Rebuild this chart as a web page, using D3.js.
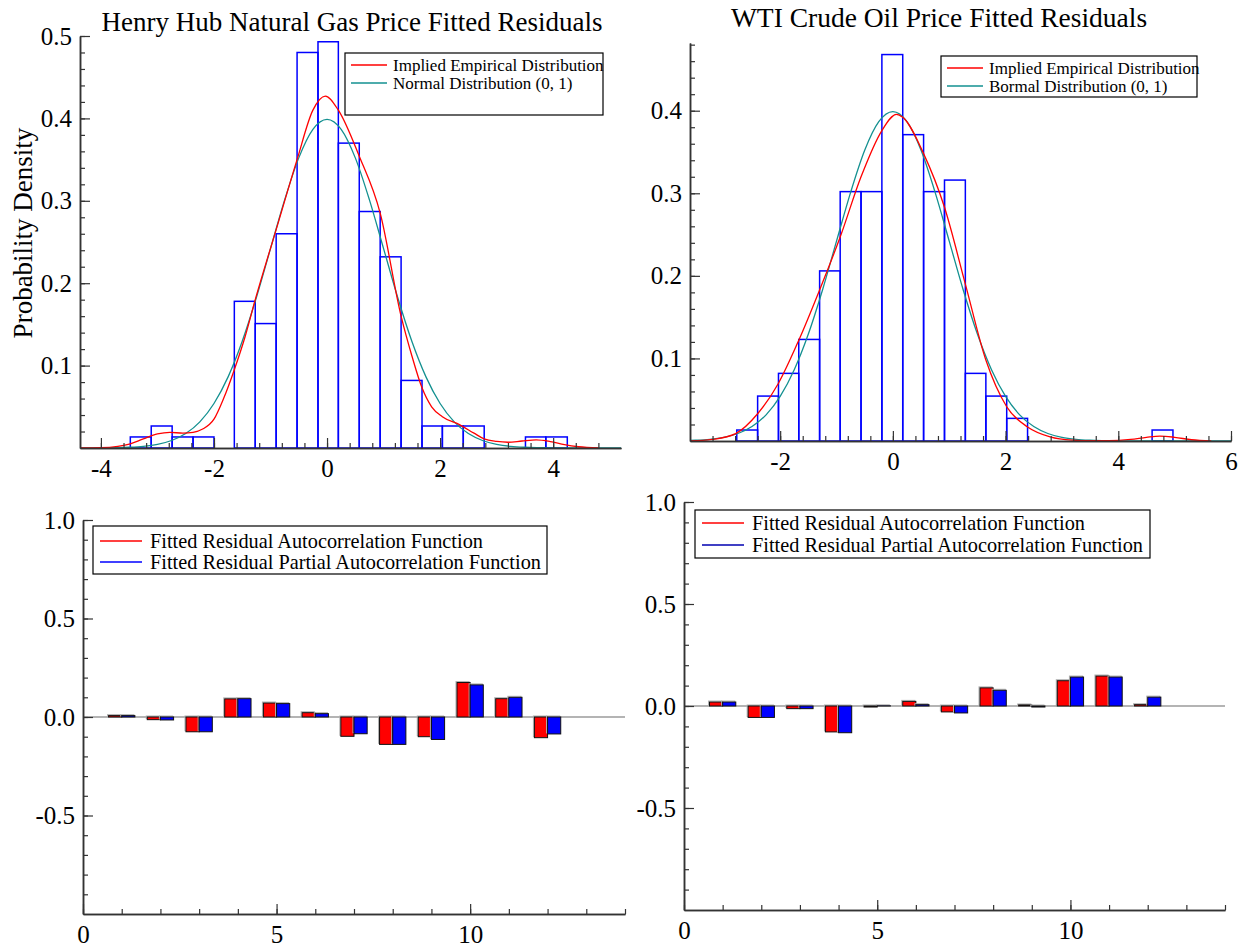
<!DOCTYPE html>
<html>
<head>
<meta charset="utf-8">
<script src="https://cdn.jsdelivr.net/npm/d3@7"></script>
<style>
  body { margin: 0; background: #fff; }
  svg text { font-family: "Liberation Serif", "Times New Roman", serif; fill: #000; }
</style>
</head>
<body>
<div id="viz"></div>
<script>
// ---- data ----
// Henry Hub histogram (bin edges and density)
var hhEdges = [-3.48, -3.11, -2.74, -2.37, -2.00, -1.64, -1.27, -0.90, -0.53, -0.16, 0.20, 0.57, 0.94, 1.31, 1.68, 2.04, 2.41, 2.78, 3.14, 3.51, 3.87, 4.25];
var hhDensity = [0.0134, 0.0267, 0.0134, 0.0134, 0, 0.178, 0.151, 0.260, 0.480, 0.493, 0.370, 0.287, 0.232, 0.082, 0.0267, 0.0267, 0.0267, 0, 0, 0.0134, 0.0134];
// implied empirical distribution (red curve)
var hhKdeX = [-4.37, -4.0, -3.7, -3.48, -3.25, -3.0, -2.78, -2.55, -2.37, -2.2, -2.0, -1.83, -1.64, -1.45, -1.27, -0.90, -0.53, -0.25, -0.03, 0.20, 0.57, 0.94, 1.31, 1.5, 1.68, 1.85, 2.04, 2.35, 2.6, 2.78, 3.0, 3.2, 3.45, 3.7, 3.95, 4.2, 4.45, 4.8];
var hhKdeY = [0, 0.0003, 0.002, 0.005, 0.011, 0.017, 0.019, 0.018, 0.019, 0.023, 0.035, 0.06, 0.095, 0.135, 0.18, 0.265, 0.35, 0.41, 0.427, 0.41, 0.354, 0.285, 0.16, 0.112, 0.073, 0.05, 0.038, 0.028, 0.018, 0.011, 0.008, 0.007, 0.0085, 0.0098, 0.0078, 0.004, 0.0015, 0];

// WTI histogram
var wtiEdges = [-2.77, -2.40, -2.03, -1.67, -1.30, -0.935, -0.565, -0.195, 0.175, 0.545, 0.916, 1.286, 1.65, 2.02, 2.39, 2.76, 3.13, 3.50, 3.87, 4.24, 4.60, 4.97];
var wtiDensity = [0.0133, 0.0544, 0.0819, 0.123, 0.206, 0.302, 0.302, 0.468, 0.371, 0.302, 0.316, 0.0819, 0.0544, 0.0274, 0, 0, 0, 0, 0, 0, 0.0133];
var wtiKdeX = [-3.6, -3.2, -2.79, -2.40, -2.03, -1.67, -1.30, -0.935, -0.565, -0.195, 0.065, 0.175, 0.545, 0.916, 1.286, 1.65, 2.02, 2.39, 2.79, 3.18, 3.5, 3.83, 4.22, 4.5, 4.74, 5.0, 5.3, 5.65];
var wtiKdeY = [0, 0.002, 0.009, 0.033, 0.07, 0.122, 0.183, 0.247, 0.32, 0.376, 0.3956, 0.392, 0.348, 0.283, 0.19, 0.098, 0.0415, 0.017, 0.005, 0.001, 0.0003, 0.0004, 0.002, 0.0045, 0.006, 0.0045, 0.0015, 0];

// normal distribution (0, 1) curve, green
var normX = [-4.5, -4.25, -4, -3.75, -3.5, -3.25, -3, -2.75, -2.5, -2.25, -2, -1.75, -1.5, -1.25, -1, -0.75, -0.5, -0.25, 0, 0.25, 0.5, 0.75, 1, 1.25, 1.5, 1.75, 2, 2.25, 2.5, 2.75, 3, 3.25, 3.5, 3.75, 4, 4.25, 4.5, 5, 5.5, 6];
var normY = [0, 0.0001, 0.0001, 0.0004, 0.0009, 0.002, 0.0044, 0.0091, 0.0175, 0.0317, 0.054, 0.0863, 0.1295, 0.1826, 0.242, 0.3011, 0.3521, 0.3867, 0.3989, 0.3867, 0.3521, 0.3011, 0.242, 0.1826, 0.1295, 0.0863, 0.054, 0.0317, 0.0175, 0.0091, 0.0044, 0.002, 0.0009, 0.0004, 0.0001, 0.0001, 0, 0, 0, 0];

// autocorrelation bars
var lags = [1, 2, 3, 4, 5, 6, 7, 8, 9, 10, 11, 12];
var hhAcf = [0.007, -0.0135, -0.075, 0.092, 0.071, 0.022, -0.098, -0.139, -0.100, 0.175, 0.093, -0.105];
var hhPacf = [0.007, -0.015, -0.075, 0.093, 0.068, 0.017, -0.085, -0.139, -0.114, 0.163, 0.100, -0.086];
var wtiAcf = [0.0194, -0.056, -0.013, -0.127, -0.005, 0.0226, -0.029, 0.089, 0.005, 0.124, 0.147, 0.0065];
var wtiPacf = [0.0194, -0.056, -0.013, -0.131, 0.001, 0.0065, -0.034, 0.077, -0.005, 0.142, 0.142, 0.0435];

var titles = ["Henry Hub Natural Gas Price Fitted Residuals", "WTI Crude Oil Price Fitted Residuals"];
var histLegend = [["Implied Empirical Distribution", "Normal Distribution (0, 1)"], ["Implied Empirical Distribution", "Bormal Distribution (0, 1)"]];
var acfLegend = ["Fitted Residual Autocorrelation Function", "Fitted Residual Partial Autocorrelation Function"];

var color = {
    red: "#ff0000",
    green: "#139090",
    blue: "#0000ff",
    navy: "#0000b0",
    axis: "#333",
    zero: "#b4b4b4"
};

var svg = d3.select("#viz")
    .append("svg")
    .attr("width", 1244)
    .attr("height", 947);

// plain hyphen instead of the unicode minus
function fmt(spec) {
    var f = d3.format(spec);
    return function(d) { return f(d).replace("\u2212", "-"); };
}

// ---- axes helper ----
function drawAxes(g, x, y, opt) {
    var x0 = x.range()[0], y0 = y.range()[0];

    var xm = g.append("g").attr("transform", "translate(0," + y0 + ")")
        .call(d3.axisBottom(x).tickValues(opt.xMinor).tickSizeInner(-5).tickSizeOuter(0).tickFormat(""));
    var xa = g.append("g").attr("transform", "translate(0," + y0 + ")")
        .call(d3.axisBottom(x).tickValues(opt.xMajor).tickSizeInner(-10).tickSizeOuter(0).tickPadding(11).tickFormat(fmt("d")));

    var ym = g.append("g").attr("transform", "translate(" + x0 + ",0)")
        .call(d3.axisLeft(y).tickValues(opt.yMinor).tickSizeInner(-5).tickSizeOuter(0).tickFormat(""));
    var ya = g.append("g").attr("transform", "translate(" + x0 + ",0)")
        .call(d3.axisLeft(y).tickValues(opt.yMajor).tickSizeInner(-10).tickSizeOuter(0).tickPadding(8).tickFormat(fmt(".1f")));

    [xm, xa, ym, ya].forEach(function(a) {
        a.selectAll("path.domain").attr("stroke", color.axis).attr("stroke-width", 1.5);
        a.selectAll("line").attr("stroke", color.axis).attr("stroke-width", 1.2);
        a.selectAll("text").attr("font-size", 25).attr("font-family", "Liberation Serif").attr("fill", "#000");
    });
}

function legend(g, box, items) {
    g.append("rect")
        .attr("x", box[0]).attr("y", box[1])
        .attr("width", box[2] - box[0]).attr("height", box[3] - box[1])
        .attr("fill", "#fff").attr("stroke", "#000").attr("stroke-width", 1.2);
    items.forEach(function(it) {
        g.append("line")
            .attr("x1", it.x1).attr("x2", it.x2)
            .attr("y1", it.y).attr("y2", it.y)
            .attr("stroke", it.color).attr("stroke-width", 1.3);
        g.append("text")
            .attr("x", it.tx).attr("y", it.y + it.dy)
            .attr("font-size", it.size)
            .text(it.label);
    });
}

// ---- histogram panels ----
function histPanel(opt) {
    var g = svg.append("g");
    var x = d3.scaleLinear().domain(opt.xDomain).range(opt.xRange);
    var y = d3.scaleLinear().domain(opt.yDomain).range(opt.yRange);

    var bins = opt.density.map(function(d, i) {
        return { x0: opt.edges[i], x1: opt.edges[i + 1], v: d };
    }).filter(function(b) { return b.v > 0; });

    g.selectAll("rect.bin")
        .data(bins)
        .enter()
        .append("rect")
        .attr("class", "bin")
        .attr("x", function(d) { return x(d.x0); })
        .attr("width", function(d) { return x(d.x1) - x(d.x0); })
        .attr("y", function(d) { return y(d.v); })
        .attr("height", function(d) { return y(0) - y(d.v); })
        .attr("fill", "none")
        .attr("stroke", color.blue)
        .attr("stroke-width", 1.5);

    var line = d3.line()
        .x(function(d) { return x(d[0]); })
        .y(function(d) { return y(d[1]); })
        .curve(d3.curveMonotoneX);

    var xd = opt.xDomain;
    var norm = d3.zip(normX, normY).filter(function(d) { return d[0] >= xd[0] - 0.3 && d[0] <= xd[1] + 0.3; });
    var kde = d3.zip(opt.kdeX, opt.kdeY);

    var clipId = "clip" + opt.id;
    g.append("clipPath").attr("id", clipId)
        .append("rect")
        .attr("x", opt.xRange[0]).attr("y", opt.yRange[1])
        .attr("width", opt.xRange[1] - opt.xRange[0])
        .attr("height", opt.yRange[0] - opt.yRange[1]);

    g.append("path").datum(norm)
        .attr("clip-path", "url(#" + clipId + ")")
        .attr("d", line).attr("fill", "none")
        .attr("stroke", color.green).attr("stroke-width", 1.3);
    g.append("path").datum(kde)
        .attr("clip-path", "url(#" + clipId + ")")
        .attr("d", line).attr("fill", "none")
        .attr("stroke", color.red).attr("stroke-width", 1.3);

    drawAxes(g, x, y, {
        xMajor: opt.xMajor, xMinor: opt.xMinor,
        yMajor: opt.yMajor, yMinor: opt.yMinor
    });

    g.append("text")
        .attr("x", opt.titleX).attr("y", opt.titleY)
        .attr("text-anchor", "middle")
        .attr("font-size", opt.titleSize)
        .text(opt.title);

    legend(g, opt.legendBox, [
        { x1: opt.legendBox[0] + 6, x2: opt.legendBox[0] + 42, y: opt.legendBox[1] + 12, tx: opt.legendBox[0] + 48, dy: 6, size: 17, color: color.red, label: opt.legend[0] },
        { x1: opt.legendBox[0] + 6, x2: opt.legendBox[0] + 42, y: opt.legendBox[1] + 30, tx: opt.legendBox[0] + 48, dy: 6, size: 17, color: color.green, label: opt.legend[1] }
    ]);
}

histPanel({
    id: "hh",
    xDomain: [-4.37, 5.2], xRange: [80, 621],
    yDomain: [0, 0.5], yRange: [448, 36],
    edges: hhEdges, density: hhDensity, kdeX: hhKdeX, kdeY: hhKdeY,
    xMajor: [-4, -2, 0, 2, 4], xMinor: d3.range(-4, 5.0, 0.4),
    yMajor: [0.1, 0.2, 0.3, 0.4, 0.5], yMinor: d3.range(0.02, 0.501, 0.02),
    title: titles[0], titleX: 352, titleY: 31, titleSize: 27,
    legend: histLegend[0], legendBox: [345, 53, 603, 115]
});

histPanel({
    id: "wti",
    xDomain: [-3.6, 6], xRange: [690, 1231],
    yDomain: [0, 0.482], yRange: [441, 43],
    edges: wtiEdges, density: wtiDensity, kdeX: wtiKdeX, kdeY: wtiKdeY,
    xMajor: [-2, 0, 2, 4, 6], xMinor: d3.range(-3.2, 6.01, 0.4),
    yMajor: [0.1, 0.2, 0.3, 0.4], yMinor: d3.range(0.02, 0.481, 0.02),
    title: titles[1], titleX: 939, titleY: 27, titleSize: 27.5,
    legend: histLegend[1], legendBox: [941, 56, 1197, 97]
});

// y axis label on the first panel
svg.append("text")
    .attr("transform", "translate(32,233) rotate(-90)")
    .attr("text-anchor", "middle")
    .attr("font-size", 27)
    .text("Probability Density");

// ---- autocorrelation panels ----
function acfPanel(opt) {
    var g = svg.append("g");
    var x = d3.scaleLinear().domain([0, 14]).range(opt.xRange);
    var y = d3.scaleLinear().domain([-1, 1]).range(opt.yRange);
    var bw = 0.34;

    // zero line
    g.append("line")
        .attr("x1", x(0)).attr("x2", x(14))
        .attr("y1", y(0)).attr("y2", y(0))
        .attr("stroke", color.zero).attr("stroke-width", 2);

    var rows = lags.map(function(l, i) { return { lag: l, acf: opt.acf[i], pacf: opt.pacf[i] }; });

    [["acf", -bw, color.red], ["pacf", 0, color.blue]].forEach(function(s) {
        var key = s[0];
        g.selectAll("rect.sh-" + key)
            .data(rows)
            .enter()
            .append("rect")
            .attr("x", function(d) { return x(d.lag + s[1]) - 1; })
            .attr("width", x(bw) - x(0))
            .attr("y", function(d) { return Math.min(y(d[key]), y(0)) - 1; })
            .attr("height", function(d) { return Math.abs(y(d[key]) - y(0)); })
            .attr("fill", "none")
            .attr("stroke", "#b0b0b0");
        g.selectAll("rect." + key)
            .data(rows)
            .enter()
            .append("rect")
            .attr("class", key)
            .attr("x", function(d) { return x(d.lag + s[1]); })
            .attr("width", x(bw) - x(0))
            .attr("y", function(d) { return Math.min(y(d[key]), y(0)); })
            .attr("height", function(d) { return Math.abs(y(d[key]) - y(0)); })
            .attr("fill", s[2])
            .attr("stroke", "#111")
            .attr("stroke-width", 1);
    });

    drawAxes(g, x, y, {
        xMajor: [0, 5, 10], xMinor: d3.range(0, 15, 1),
        yMajor: [-0.5, 0, 0.5, 1.0], yMinor: d3.range(-0.9, 1.01, 0.1)
    });

    var b = opt.legendBox;
    legend(g, b, [
        { x1: b[0] + 7, x2: b[0] + 49, y: opt.ly[0], tx: b[0] + 57, dy: 7, size: 20.3, color: color.red, label: acfLegend[0] },
        { x1: b[0] + 7, x2: b[0] + 49, y: opt.ly[1], tx: b[0] + 57, dy: 7, size: 20.3, color: opt.pacfColor, label: acfLegend[1] }
    ]);
}

acfPanel({
    xRange: [83, 625], yRange: [914, 520],
    acf: hhAcf, pacf: hhPacf, pacfColor: color.blue,
    legendBox: [93, 526, 547, 574], ly: [541, 562]
});

acfPanel({
    xRange: [684, 1225], yRange: [910, 502],
    acf: wtiAcf, pacf: wtiPacf, pacfColor: color.navy,
    legendBox: [695, 510, 1150, 558], ly: [523, 545]
});
</script>
</body>
</html>
